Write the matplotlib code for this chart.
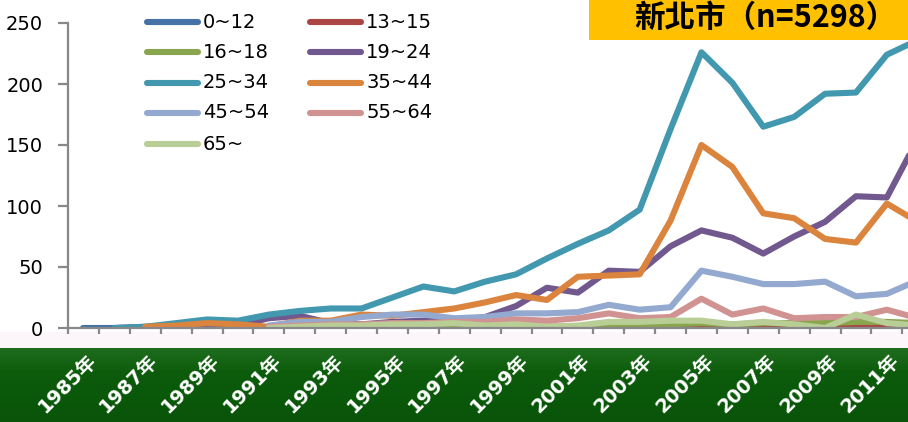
import numpy as np
import matplotlib
matplotlib.use("Agg")
import matplotlib.pyplot as plt
from matplotlib.lines import Line2D
from matplotlib.patches import Rectangle
from matplotlib.colors import LinearSegmentedColormap
import matplotlib.transforms as mtransforms

nan = np.nan
years = list(range(1985, 2013))
tick_years = list(range(1985, 2012, 2))
tick_labels = [f"{y}年" for y in tick_years]

labels = ["0~12", "13~15", "16~18", "19~24", "25~34", "35~44", "45~54", "55~64", "65~"]
colors = ["#4572A7", "#AA4643", "#89A54E", "#71588F", "#4198AF", "#DB843D",
          "#93A9CF", "#D19392", "#B9CD96"]

v_0_12 = [0, 0] + [nan] * 26
v_13_15 = [nan] * 8 + [0, 0, 0, 1, 0, 1, 1, 1, 1, 2, 2, 1, 2, 2, 1, 2, 2, 2, 2, 1]
v_16_18 = [nan] * 8 + [0, 0, 0, 0, 1, 1, 1, 1, 1, 2, 3, 3, 4, 3, 4, 4, 4, 5, 5, 4]
v_19_24 = [nan, 0, 1, 1, 2, 2, 8, 10, 4, 3, 5, 6, 6, 9, 18, 33, 29, 47, 46, 67,
           80, 74, 61, 75, 87, 108, 107, 155]
v_25_34 = [nan, 0, 1, 4, 7, 6, 11, 14, 16, 16, 25, 34, 30, 38, 44, 57, 69, 80, 97, 163,
           226, 201, 165, 173, 192, 193, 224, 236]
v_35_44 = [nan, nan, 1, 2, 4, 3, 1, 6, 6, 11, 10, 13, 16, 21, 27, 23, 42, 43, 44, 88,
           150, 132, 94, 90, 73, 70, 102, 87]
v_45_54 = [nan] * 6 + [2, 5, 5, 9, 11, 11, 8, 9, 12, 12, 13, 19, 15, 17,
                       47, 42, 36, 36, 38, 26, 28, 39]
v_55_64 = [nan] * 6 + [1, 2, 3, 3, 4, 4, 5, 5, 7, 6, 8, 12, 8, 9,
                       24, 11, 16, 8, 9, 9, 15, 8]
v_65 = [nan] * 6 + [0, 1, 2, 2, 3, 3, 4, 2, 3, 1, 2, 5, 5, 6,
                    6, 3, 5, 3, 0, 11, 4, 2]
series = [v_0_12, v_13_15, v_16_18, v_19_24, v_25_34, v_35_44, v_45_54, v_55_64, v_65]

W, H = 908, 422
fig = plt.figure(figsize=(W / 100, H / 100), dpi=100)
fig.patch.set_facecolor("white")

def fx(px):
    return px / W

def fy(py):
    return 1 - py / H

# bottom bands
fig.patches.append(Rectangle((0, fy(348)), 1, (348 - 332) / H, transform=fig.transFigure,
                             facecolor="#fcf6fa", edgecolor="none", zorder=0))
gax = fig.add_axes([0, 0, 1, fy(348)], zorder=0)
grad = np.linspace(0, 1, 80).reshape(-1, 1)
cm = LinearSegmentedColormap.from_list("g", ["#1f6e1f", "#0c5c0c", "#0a580a", "#095409"])
gax.imshow(grad, aspect="auto", cmap=cm, extent=[0, 1, 0, 1], origin="upper")
gax.set_axis_off()

ax = fig.add_axes([fx(68), fy(328), fx(908 - 68), 305 / H], zorder=2)
ax.patch.set_alpha(0)
x = np.array(years, dtype=float)
for vals, c, lab in zip(series, colors, labels):
    ax.plot(x, np.array(vals, dtype=float), color=c, lw=4.4, solid_capstyle="round",
            solid_joinstyle="round", label=lab, clip_on=True)

ax.set_xlim(1984.5, 1984.5 + 840 / 30.9)
ax.set_ylim(0, 250)
ax.set_yticks(range(0, 251, 50))
ax.set_xticks(np.arange(1984.5, 2012, 1.0))
ax.set_xticklabels([])
for s in ["top", "right"]:
    ax.spines[s].set_visible(False)
for s in ["left", "bottom"]:
    ax.spines[s].set_color("#888888")
    ax.spines[s].set_linewidth(1.6)
ax.tick_params(axis="y", direction="out", length=7, width=1.6, color="#888888",
               labelsize=14, pad=11, labelcolor="black")
ax.tick_params(axis="x", direction="out", length=4.5, width=1.6, color="#888888")

trans = mtransforms.blended_transform_factory(ax.transData, ax.transAxes)
for yr, lab in zip(tick_years, tick_labels):
    ax.text(yr + 0.1, -23 / 305, lab, transform=trans, rotation=45, ha="right", va="top",
            rotation_mode="anchor", color="white", fontsize=14, fontweight="bold",
            family=["DejaVu Sans", "Noto Sans CJK TC"], clip_on=False)

# legend (row-major like the reference)
rows = [22, 52, 83, 113, 144]
for i, (c, lab) in enumerate(zip(colors, labels)):
    r, col = divmod(i, 2)
    x0 = 147 if col == 0 else 310
    yy = rows[r]
    fig.add_artist(Line2D([fx(x0), fx(x0 + 51)], [fy(yy), fy(yy)], transform=fig.transFigure,
                          color=c, lw=4.4, solid_capstyle="round"))
    fig.text(fx(x0 + 56), fy(yy), lab, fontsize=14, va="center", ha="left", color="black")

# title box
fig.patches.append(Rectangle((fx(589), fy(40)), 1 - fx(589), 40 / H, transform=fig.transFigure,
                             facecolor="#FFC000", edgecolor="none", zorder=3))
fig.text(fx(765), fy(18), "新北市（n=5298）", fontsize=22, ha="center", va="center",
         family=["Noto Sans CJK TC"], fontweight="bold", color="black", zorder=4)

fig.savefig("out.png", dpi=100)
